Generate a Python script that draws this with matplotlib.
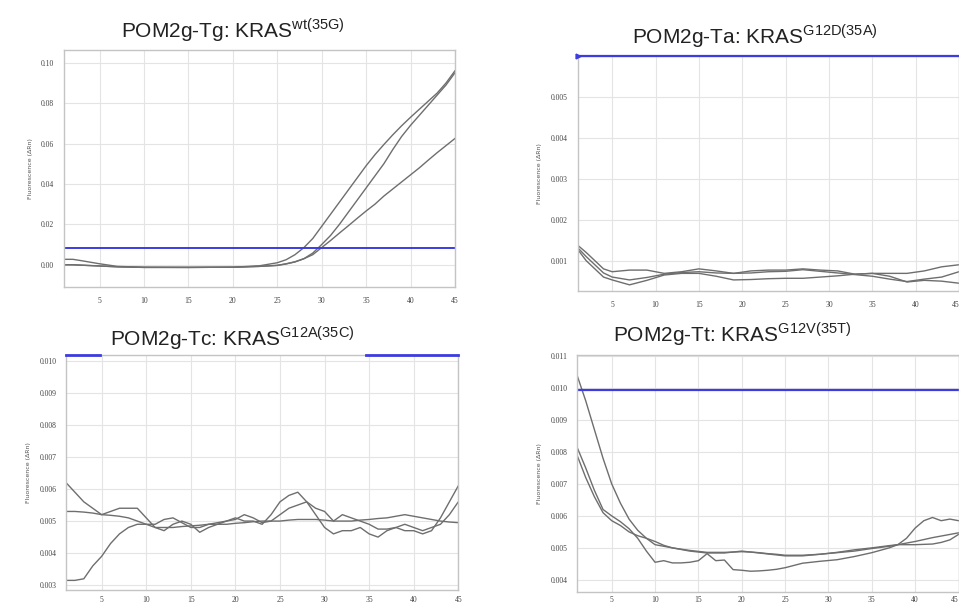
import numpy as np
import matplotlib
matplotlib.use("Agg")
import matplotlib.pyplot as plt

# --- data (cycle, delta Rn) ---
tg_cycles = [1, 2, 3, 5, 7, 10, 15, 20, 23, 25, 26, 27, 28, 29, 30, 31, 32, 33, 34, 35,
             36, 37, 38, 39, 40, 41, 42, 43, 44, 45]
tg_a = [0.0027, 0.0027, 0.0020, 0.0005, -0.0008, -0.0012, -0.0013, -0.0012, -0.0005, 0.0010,
        0.0025, 0.0050, 0.0085, 0.0130, 0.0190, 0.0250, 0.0310, 0.0370, 0.0430, 0.0490,
        0.0545, 0.0595, 0.0643, 0.0688, 0.0730, 0.0770, 0.0810, 0.0850, 0.0900, 0.0960]
tg_b = [0.0000, 0.0000, -0.0002, -0.0006, -0.0010, -0.0013, -0.0013, -0.0012, -0.0008, -0.0003,
        0.0005, 0.0015, 0.0030, 0.0058, 0.0100, 0.0145, 0.0200, 0.0260, 0.0320, 0.0380,
        0.0440, 0.0500, 0.0570, 0.0635, 0.0690, 0.0740, 0.0790, 0.0840, 0.0890, 0.0950]
tg_c = [0.0000, 0.0000, -0.0002, -0.0006, -0.0010, -0.0013, -0.0013, -0.0012, -0.0008, -0.0003,
        0.0004, 0.0014, 0.0030, 0.0050, 0.0085, 0.0120, 0.0157, 0.0193, 0.0230, 0.0266,
        0.0300, 0.0340, 0.0375, 0.0410, 0.0445, 0.0480, 0.0518, 0.0555, 0.0590, 0.0625]
tg_threshold = 0.0085

ta_cycles = [1, 2, 3, 4, 5, 7, 9, 11, 13, 15, 17, 19, 21, 23, 25, 27, 29, 31, 33, 35,
             37, 39, 41, 43, 45]
ta_a = [0.00138, 0.00120, 0.00100, 0.00080, 0.00073, 0.00077, 0.00077, 0.00069, 0.00073, 0.00080,
        0.00075, 0.00069, 0.00075, 0.00077, 0.00077, 0.00080, 0.00077, 0.00075, 0.00067, 0.00069,
        0.00069, 0.00069, 0.00075, 0.00085, 0.00090]
ta_b = [0.00132, 0.00110, 0.00090, 0.00070, 0.00060, 0.00053, 0.00059, 0.00067, 0.00071, 0.00073,
        0.00070, 0.00069, 0.00070, 0.00073, 0.00074, 0.00078, 0.00074, 0.00070, 0.00066, 0.00062,
        0.00055, 0.00049, 0.00055, 0.00060, 0.00073]
ta_c = [0.00128, 0.00100, 0.00080, 0.00060, 0.00053, 0.00041, 0.00052, 0.00065, 0.00069, 0.00069,
        0.00062, 0.00053, 0.00054, 0.00056, 0.00057, 0.00057, 0.00060, 0.00063, 0.00067, 0.00069,
        0.00062, 0.00048, 0.00052, 0.00050, 0.00045]
ta_threshold = 0.0060

tc_cycles = list(range(1, 46))
tc_a = [0.0062, 0.0059, 0.0056, 0.0054, 0.0052, 0.0053, 0.0054, 0.0054, 0.0054, 0.0051,
        0.0048, 0.0047, 0.0049, 0.0050, 0.0049, 0.00465, 0.0048, 0.0049, 0.0050, 0.0051,
        0.0050, 0.0050, 0.0049, 0.0052, 0.0056, 0.0058, 0.0059, 0.0056, 0.0052, 0.0048,
        0.0046, 0.0047, 0.0047, 0.0048, 0.0046, 0.0045, 0.0047, 0.0048, 0.0047, 0.0047,
        0.0046, 0.0047, 0.0051, 0.0056, 0.0061]
tc_b = [0.0053, 0.0053, 0.00528, 0.00525, 0.0052, 0.00518, 0.00515, 0.0051, 0.0050, 0.0049,
        0.0048, 0.0048, 0.0048, 0.00483, 0.00485, 0.00487, 0.0049, 0.0049, 0.0049, 0.00493,
        0.00495, 0.00498, 0.0050, 0.0050, 0.0050, 0.00503, 0.00505, 0.00505, 0.00505, 0.00503,
        0.0050, 0.0050, 0.0050, 0.00503, 0.00505, 0.00508, 0.0051, 0.00515, 0.0052, 0.00515,
        0.0051, 0.00505, 0.0050, 0.00497, 0.00495]
tc_c = [0.00315, 0.00315, 0.0032, 0.0036, 0.0039, 0.0043, 0.0046, 0.0048, 0.0049, 0.0049,
        0.0049, 0.00505, 0.0051, 0.00495, 0.0048, 0.0048, 0.0049, 0.00495, 0.0050, 0.00505,
        0.0052, 0.0051, 0.00495, 0.0050, 0.0052, 0.0054, 0.0055, 0.0056, 0.0054, 0.0053,
        0.0050, 0.0052, 0.0051, 0.0050, 0.0049, 0.00475, 0.00475, 0.0048, 0.0049, 0.0048,
        0.0047, 0.0048, 0.0049, 0.0052, 0.0056]
tc_threshold = 0.01018
tc_threshold_spans = [(1, 4.8), (34.7, 45)]

tt_cycles = [1, 2, 3, 4, 5, 6, 7, 8, 9, 10, 11, 12, 13, 14, 15, 16, 17, 18, 19, 20,
             21, 22, 23, 24, 25, 27, 29, 31, 33, 35, 37, 38, 39, 40, 41, 42, 43, 44, 45]
tt_a = [0.0104, 0.0096, 0.0087, 0.0078, 0.0070, 0.0064, 0.0059, 0.00555, 0.0053, 0.0051,
        0.00505, 0.0050, 0.00496, 0.00492, 0.00489, 0.00486, 0.00486, 0.00486, 0.00487, 0.00488,
        0.00487, 0.00485, 0.00482, 0.0048, 0.00477, 0.00477, 0.0048, 0.00485, 0.0049, 0.00498,
        0.00505, 0.0051, 0.00515, 0.0052, 0.00526, 0.00532, 0.00537, 0.00542, 0.00547]
tt_b = [0.00815, 0.0075, 0.0068, 0.0062, 0.0060, 0.00582, 0.0056, 0.0053, 0.0049, 0.00455,
        0.0046, 0.00453, 0.00453, 0.00455, 0.0046, 0.00482, 0.0046, 0.00462, 0.00432, 0.0043,
        0.00427, 0.00428, 0.0043, 0.00433, 0.00438, 0.00452, 0.00458, 0.00463, 0.00473, 0.00485,
        0.0050, 0.0051, 0.0053, 0.00562, 0.00585, 0.00595, 0.00585, 0.0059, 0.00585]
tt_c = [0.0079, 0.0072, 0.0066, 0.0061, 0.00585, 0.0057, 0.0055, 0.00538, 0.0053, 0.0052,
        0.00508, 0.0050, 0.00495, 0.0049, 0.00487, 0.00484, 0.00484, 0.00484, 0.00487, 0.0049,
        0.00487, 0.00484, 0.00481, 0.00478, 0.00475, 0.00475, 0.0048, 0.00486, 0.00494, 0.005,
        0.00507, 0.0051, 0.0051, 0.0051, 0.00511, 0.00512, 0.00517, 0.00525, 0.00542]
tt_threshold = 0.00993

x_ticks = [5, 10, 15, 20, 25, 30, 35, 40, 45]

curve_col = "#6e6e6e"
thr_col = "#3c3ce0"

fig = plt.figure(figsize=(9.59, 6.06), dpi=100)
fig.patch.set_facecolor("white")


def style(ax, ylim, yticks, fmt, xpad=7, edge=False):
    ax.set_xlim(1, 45)
    ax.set_ylim(*ylim)
    ax.set_xticks(x_ticks)
    ax.set_yticks(yticks)
    ax.set_yticklabels([fmt.format(v) for v in yticks])
    ax.grid(True, color="#e4e4e4", lw=0.8)
    ax.set_axisbelow(True)
    for s in ax.spines.values():
        s.set_color("#c4c4c4")
        s.set_linewidth(1.0)
    ax.tick_params(length=0, labelsize=5.5, colors="#444444", pad=7)
    ax.tick_params(axis="x", pad=xpad)
    for lab in ax.get_xticklabels() + ax.get_yticklabels():
        lab.set_family("Liberation Serif")
    if edge:
        # panel touches the right edge of the image, keep the last label inside
        ax.get_xticklabels()[-1].set_horizontalalignment("right")
    ax.set_ylabel("Fluorescence (ΔRn)", fontsize=4.5, color="#555555", labelpad=6)


def title(x, y, name, sup):
    fig.text(x, y, name + r"$^{\mathregular{" + sup + "}}$", ha="center", va="center",
             fontsize=15, family="Liberation Sans", color="#222222")


# top left
ax1 = fig.add_axes([0.0667, 0.5264, 0.4077, 0.3911])
for v in (tg_a, tg_b, tg_c):
    ax1.plot(tg_cycles, v, color=curve_col, lw=1.0)
ax1.axhline(tg_threshold, color=thr_col, lw=1.4)
style(ax1, (-0.011, 0.1063), [0.0, 0.02, 0.04, 0.06, 0.08, 0.10], "{:.2f}")
title(0.243, 0.950, "POM2g-Tg: KRAS", "wt(35G)")

# top right
ax2 = fig.add_axes([0.6022, 0.5198, 0.3978, 0.3883])
for v in (ta_a, ta_b, ta_c):
    ax2.plot(ta_cycles, v, color=curve_col, lw=1.0)
ax2.plot([1, 45], [ta_threshold, ta_threshold], color=thr_col, lw=1.6, clip_on=False, zorder=5)
ax2.plot([1], [ta_threshold], marker=">", color=thr_col, ms=3.5, clip_on=False, zorder=5)
style(ax2, (0.00026, 0.006), [0.001, 0.002, 0.003, 0.004, 0.005], "{:.3f}", edge=True)
title(0.787, 0.940, "POM2g-Ta: KRAS", "G12D(35A)")

# bottom left
ax3 = fig.add_axes([0.0688, 0.0264, 0.4091, 0.3878])
for v in (tc_a, tc_b, tc_c):
    ax3.plot(tc_cycles, v, color=curve_col, lw=1.0)
for x0, x1 in tc_threshold_spans:
    ax3.plot([x0, x1], [tc_threshold, tc_threshold], color=thr_col, lw=2.0,
             clip_on=False, zorder=5)
style(ax3, (0.00285, 0.01018), [0.003, 0.004, 0.005, 0.006, 0.007, 0.008, 0.009, 0.010],
      "{:.3f}", xpad=4)
title(0.242, 0.442, "POM2g-Tc: KRAS", "G12A(35C)")

# bottom right
ax4 = fig.add_axes([0.6017, 0.0236, 0.3978, 0.3906])
for v in (tt_a, tt_b, tt_c):
    ax4.plot(tt_cycles, v, color=curve_col, lw=1.0)
ax4.axhline(tt_threshold, color=thr_col, lw=1.6)
style(ax4, (0.00363, 0.01103), [0.004, 0.005, 0.006, 0.007, 0.008, 0.009, 0.010, 0.011],
      "{:.3f}", xpad=3, edge=True)
title(0.763, 0.449, "POM2g-Tt: KRAS", "G12V(35T)")

fig.savefig("out.png", dpi=100, facecolor="white")
